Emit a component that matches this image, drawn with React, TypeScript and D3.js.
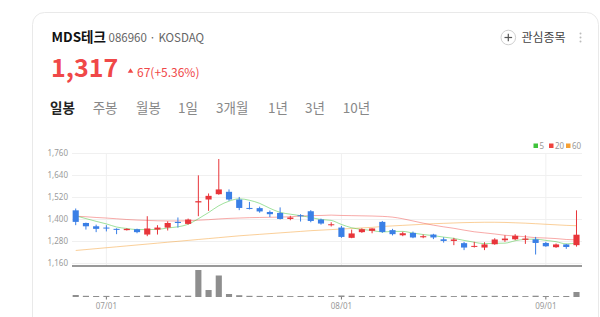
import React from 'react';
import * as d3 from 'd3';

// ---- data ----
const opens = [1450,1381,1363,1356,1349,1342,1347,1318,1345,1356,1387,1376,1493,1509,1538,1551,1509,1463,1462,1441,1436,1403,1423,1445,1400,1370,1356,1300,1331,1338,1387,1342,1314,1327,1303,1318,1292,1283,1271,1251,1247,1265,1287,1292,1289,1292,1272,1249,1264,1260];
const highs = [1460,1383,1372,1369,1352,1352,1350,1418,1369,1390,1411,1405,1641,1542,1730,1564,1523,1496,1470,1449,1466,1420,1429,1451,1405,1385,1365,1345,1352,1352,1392,1349,1333,1334,1318,1322,1303,1300,1278,1278,1276,1298,1314,1320,1314,1305,1278,1269,1267,1450];
const lows = [1369,1345,1331,1335,1320,1340,1325,1309,1318,1340,1356,1372,1418,1447,1535,1502,1451,1455,1437,1413,1400,1396,1389,1385,1372,1362,1300,1298,1327,1325,1327,1313,1309,1298,1298,1293,1274,1260,1233,1247,1233,1262,1278,1287,1267,1209,1251,1245,1240,1252];
const closes = [1387,1363,1349,1351,1345,1349,1331,1351,1356,1381,1381,1400,1500,1529,1564,1509,1463,1458,1444,1429,1403,1411,1418,1392,1378,1374,1305,1324,1347,1351,1332,1320,1325,1302,1309,1302,1283,1291,1247,1256,1264,1291,1296,1311,1296,1272,1254,1264,1250,1317];
const volumes = [200000,120000,100000,110000,100000,90000,110000,150000,110000,120000,140000,130000,2700000,700000,2150000,300000,180000,120000,110000,100000,120000,90000,100000,110000,100000,90000,150000,120000,100000,90000,110000,100000,90000,100000,90000,100000,110000,90000,130000,100000,110000,120000,100000,110000,90000,130000,100000,90000,100000,500000];
const ma5 = [1420,1405,1390,1376,1359,1351,1345,1345,1346,1354,1360,1374,1404,1438,1475,1500,1513,1505,1488,1461,1439,1429,1421,1411,1400,1395,1373,1355,1346,1340,1332,1335,1335,1326,1318,1312,1304,1297,1286,1276,1268,1270,1271,1284,1292,1293,1286,1279,1267,1271];
const ma20 = [1418,1415,1411,1408,1404,1400,1397,1395,1393,1392,1392,1393,1396,1399,1403,1406,1408,1410,1411,1412,1413,1415,1419,1421,1422,1424,1422,1421,1420,1419,1417,1413,1404,1392,1380,1369,1360,1352,1342,1333,1327,1321,1314,1310,1306,1301,1299,1296,1291,1289];
const ma60 = [1231,1236,1241,1246,1251,1256,1261,1266,1271,1276,1281,1286,1291,1296,1301,1306,1311,1315,1319,1323,1327,1331,1335,1339,1342,1345,1348,1351,1354,1357,1362,1365,1368,1371,1374,1377,1379,1381,1383,1384,1385,1385,1384,1382,1380,1377,1374,1371,1368,1366];
const priceTicks = [1160, 1280, 1400, 1520, 1640, 1760];
const xTickIndex = [3, 26, 46];
const xTickLabels = ['07/01', '08/01', '09/01'];
const tabs = ['일봉', '주봉', '월봉', '1일', '3개월', '1년', '3년', '10년'];
const maLabels = ['5', '20', '60'];

// ---- layout / style ----
const TAB_X = [50, 92.7, 136, 178, 216, 268, 305, 342.7];
const MA_COLORS = ['#3fc33a', '#f0433d', '#f5a033'];
const UP = '#e8353a';
const DOWN = '#3a7fe6';
const FONT = '"Noto Sans CJK KR", "Noto Sans", sans-serif';
const PLOT_L = 72;
const PLOT_R = 582;

export default function App() {
  const idx = d3.range(closes.length);
  const x = d3.scaleBand<number>().domain(idx).range([70.6, 581.6]).paddingInner(0.4).paddingOuter(0.2);
  const step = x.step();
  const cx = (i: number) => (x(i) as number) + x.bandwidth() / 2;
  const bw = x.bandwidth();
  const y = d3.scaleLinear().domain([1160, 1760]).range([263.5, 153.5]);
  const yv = d3.scaleLinear().domain([0, 3000000]).range([297, 267]);

  const line = (arr: number[]) =>
    d3.line<number>().x((_, i) => cx(i)).y((v) => y(v)).curve(d3.curveMonotoneX)(arr) || '';

  return (
    <svg width={600} height={317} style={{ position: 'fixed', left: 0, top: 0, background: '#fff' }} fontFamily={FONT}>
      <rect x={32.5} y={12.5} width={566} height={330} rx={12} fill="#fff" stroke="#e9e9e9" />
      {/* header */}
      <text x={51.5} y={41.5} fontSize={13.5} fontWeight="bold" fill="#111">MDS테크</text>
      <text x={108.5} y={41.5} fontSize={11.5} fill="#666">086960 · KOSDAQ</text>
      <text x={51} y={76.5} fontSize={25} fontWeight="bold" fill="#f04848">1,317</text>
      <polygon points="127.7,72.7 130.5,68.3 133.3,72.7" fill="#f04848" />
      <text x={137} y={76.5} fontSize={12} fill="#f04848">67(+5.36%)</text>
      {/* watchlist */}
      <circle cx={508.3} cy={37.5} r={7.3} fill="#fff" stroke="#cfcfcf" />
      <line x1={504.5} x2={512.1} y1={37.5} y2={37.5} stroke="#555" strokeWidth={1.2} />
      <line x1={508.3} x2={508.3} y1={33.7} y2={41.3} stroke="#555" strokeWidth={1.2} />
      <text x={521.5} y={41.5} fontSize={12} fill="#444">관심종목</text>
      {[33.5, 37.5, 41.5].map((cy) => (
        <circle key={cy} cx={580.5} cy={cy} r={1} fill="#bbb" />
      ))}
      {/* tabs */}
      {tabs.map((t, i) => (
        <text key={t} x={TAB_X[i]} y={113} fontSize={13.5} fontWeight={i === 0 ? 'bold' : 'normal'} fill={i === 0 ? '#222' : '#888'}>
          {t}
        </text>
      ))}
      {/* grid */}
      {priceTicks.map((v) => (
        <g key={v}>
          <line x1={PLOT_L} x2={PLOT_R} y1={y(v)} y2={y(v)} stroke="#f0f0f0" />
          <text x={68} y={y(v) + 2.8} textAnchor="end" fontSize={8} fill="#9a9a9a" fontFamily='"Noto Sans", sans-serif'>
            {d3.format(',')(v)}
          </text>
        </g>
      ))}
      {xTickIndex.map((i) => (
        <line key={i} x1={cx(i)} x2={cx(i)} y1={y(1760)} y2={266} stroke="#f0f0f0" />
      ))}
      <line x1={PLOT_L} x2={PLOT_R} y1={266} y2={266} stroke="#777" strokeWidth={1.5} />
      {/* legend */}
      {maLabels.map((l, k) => (
        <g key={l}>
          <rect x={533.5 + k * 15.5 + (k === 2 ? 1.5 : 0)} y={143.5} width={4.5} height={4.5} fill={MA_COLORS[k]} />
          <text x={539.5 + k * 15.5 + (k === 2 ? 1.5 : 0)} y={148.8} fontSize={8} fill="#999" fontFamily='"Noto Sans", sans-serif'>
            {l}
          </text>
        </g>
      ))}
      {/* MAs */}
      <path d={line(ma60)} fill="none" stroke={MA_COLORS[2]} strokeOpacity={0.5} strokeWidth={1} />
      <path d={line(ma20)} fill="none" stroke={MA_COLORS[1]} strokeOpacity={0.45} strokeWidth={1} />
      <path d={line(ma5)} fill="none" stroke={MA_COLORS[0]} strokeOpacity={0.5} strokeWidth={1} />
      {/* candles */}
      {idx.map((i) => {
        const up = closes[i] >= opens[i];
        const c = up ? UP : DOWN;
        const top = y(Math.max(opens[i], closes[i]));
        const bot = y(Math.min(opens[i], closes[i]));
        return (
          <g key={i}>
            <line x1={cx(i)} x2={cx(i)} y1={y(highs[i])} y2={y(lows[i])} stroke={c} strokeWidth={1} />
            <rect x={x(i)} y={top} width={bw} height={Math.max(1, bot - top)} fill={c} />
          </g>
        );
      })}
      {/* volume */}
      {idx.map((i) => (
        <rect key={i} x={x(i)} y={yv(volumes[i])} width={bw} height={297 - yv(volumes[i])} fill="#8e8e8e" />
      ))}
      {xTickIndex.map((i, k) => (
        <g key={i}>
          <line x1={cx(i)} x2={cx(i)} y1={297} y2={299.5} stroke="#777" />
          <text x={cx(i)} y={309} textAnchor="middle" fontSize={8} fill="#9a9a9a" fontFamily='"Noto Sans", sans-serif'>
            {xTickLabels[k]}
          </text>
        </g>
      ))}
    </svg>
  );
}
